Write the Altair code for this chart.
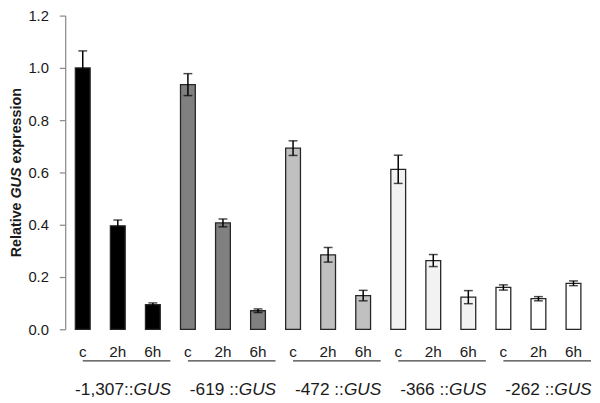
import altair as alt
import pandas as pd

groups = ["-1,307", "-619", "-472", "-366", "-262"]
prefixes = ["-1,307::", "-619 ::", "-472 ::", "-366 ::", "-262 ::"]
times = ["c", "2h", "6h"]
colors = ["#000000", "#808080", "#c0c0c0", "#f2f2f2", "#ffffff"]

values = [1.000, 0.396, 0.094,
          0.936, 0.407, 0.071,
          0.693, 0.285, 0.129,
          0.612, 0.263, 0.123,
          0.160, 0.117, 0.176]
errors = [0.065, 0.022, 0.007,
          0.042, 0.015, 0.007,
          0.028, 0.028, 0.020,
          0.054, 0.023, 0.025,
          0.010, 0.008, 0.009]
y_ticks = [0.0, 0.2, 0.4, 0.6, 0.8, 1.0, 1.2]

ids = [f"{g}|{t}" for g in groups for t in times]
df = pd.DataFrame({
    "id": ids,
    "group": [g for g in groups for _ in times],
    "label": [t for _ in groups for t in times],
    "value": values,
    "err": errors,
})
df["hi"] = df["value"] + df["err"]
df["lo"] = df["value"] - df["err"]

under = pd.DataFrame({
    "id": [f"{g}|c" for g in groups],
    "id2": [f"{g}|6h" for g in groups],
})
glab = pd.DataFrame({
    "id": [f"{g}|2h" for g in groups],
    "prefix": prefixes,
    "gus": ["GUS"] * len(groups),
})

xscale = alt.Scale(domain=ids, paddingInner=0, paddingOuter=0)
yscale = alt.Scale(domain=[0, 1.2], nice=False)
FONT = "Liberation Sans"
AX = "#868686"

def X(axis=None, **kw):
    return alt.X("id:N", scale=xscale, sort=ids, axis=axis, **kw)

bars = alt.Chart(df).mark_bar(size=15, stroke="#262626", strokeWidth=1.3).encode(
    x=X(axis=alt.Axis(labels=False, title=None, bandPosition=0, tickSize=5,
                      domainColor=AX, tickColor=AX, domainWidth=1.2, tickWidth=1.2)),
    y=alt.Y("value:Q", scale=yscale,
            axis=alt.Axis(values=y_ticks, format=".1f", title=None, grid=False,
                          tickSize=6, labelPadding=11, domainColor=AX, tickColor=AX,
                          domainWidth=1.2, tickWidth=1.2, labelFont=FONT,
                          labelFontSize=15, labelColor="#1a1a1a")),
    color=alt.Color("group:N", scale=alt.Scale(domain=groups, range=colors), legend=None),
)

err_rule = alt.Chart(df).mark_rule(color="black", strokeWidth=1.5).encode(
    x=X(), y=alt.Y("lo:Q", scale=yscale), y2="hi:Q")
cap_hi = alt.Chart(df).mark_tick(color="black", size=9, thickness=1.5).encode(
    x=X(), y=alt.Y("hi:Q", scale=yscale))
cap_lo = alt.Chart(df).mark_tick(color="black", size=9, thickness=1.5).encode(
    x=X(), y=alt.Y("lo:Q", scale=yscale))

cat_text = alt.Chart(df).mark_text(font=FONT, fontSize=15.5, baseline="alphabetic",
                                   color="#1a1a1a").encode(
    x=X(), y=alt.value(346), text="label:N")

underline = alt.Chart(under).mark_rule(color="#404040", strokeWidth=1.5).encode(
    x=X(bandPosition=0.5), x2=alt.X2("id2", bandPosition=1.0), y=alt.value(350))

gl1 = alt.Chart(glab).mark_text(font=FONT, fontSize=17.5, align="right", dx=16,
                                baseline="alphabetic", color="#1a1a1a").encode(
    x=X(), y=alt.value(385), text="prefix:N")
gl2 = alt.Chart(glab).mark_text(font=FONT, fontSize=17.5, align="left", dx=16,
                                fontStyle="italic", baseline="alphabetic",
                                color="#1a1a1a").encode(
    x=X(), y=alt.value(385), text="gus:N")

def ytitle(txt, ypos, italic=False):
    return alt.Chart(pd.DataFrame({"t": [txt]})).mark_text(
        font=FONT, fontSize=14.5, fontWeight="bold",
        fontStyle="italic" if italic else "normal",
        angle=270, align="left", baseline="middle", color="#1a1a1a").encode(
        x=alt.value(-49), y=alt.value(ypos), text="t:N")

t1 = ytitle("Relative", 245)
t2 = ytitle("GUS", 185.4, italic=True)
t3 = ytitle("expression", 150)

chart = alt.layer(bars, err_rule, cap_hi, cap_lo, cat_text, underline, gl1, gl2,
                  t1, t2, t3).properties(
    width=533, height=318,
    autosize=alt.AutoSizeParams(type="none"),
    padding={"left": 58, "top": 5, "right": 1, "bottom": 72},
).configure_view(stroke=None)

chart.save("out.html", embed_options={"renderer": "svg", "actions": False})
